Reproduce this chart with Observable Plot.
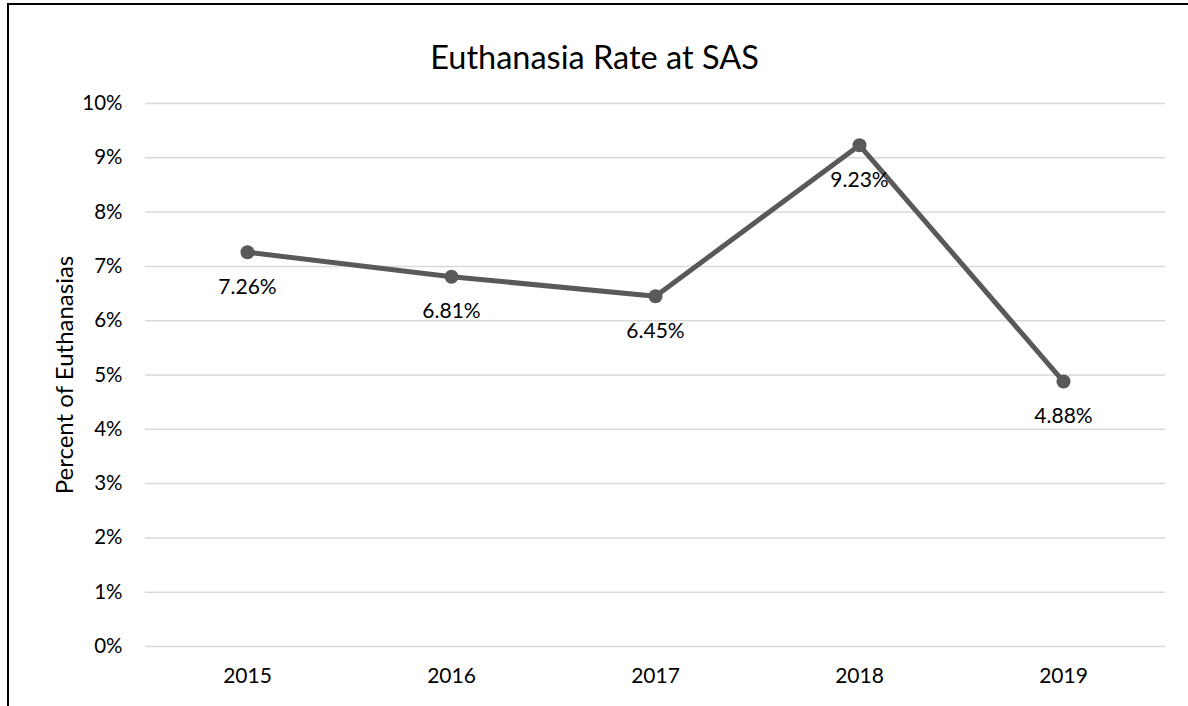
<!DOCTYPE html>
<html>
<head>
<meta charset="utf-8">
<script src="https://cdn.jsdelivr.net/npm/d3@7"></script>
<script src="https://cdn.jsdelivr.net/npm/@observablehq/plot@0.6"></script>
<style>
  html, body { margin: 0; padding: 0; background: #fff; }
  #wrap { position: relative; width: 1188px; height: 706px; overflow: hidden; }
  #border { position: absolute; left: 7px; top: 3px; width: 1190px; height: 720px; border-left: 2px solid #000; border-top: 2px solid #000; box-sizing: border-box; pointer-events: none; }
</style>
</head>
<body>
<div id="wrap"><div id="border"></div></div>
<script>
const years = ["2015", "2016", "2017", "2018", "2019"];
const rates = [0.0726, 0.0681, 0.0645, 0.0923, 0.0488];
const labels = ["7.26%", "6.81%", "6.45%", "9.23%", "4.88%"];
const yTicks = [0, 0.01, 0.02, 0.03, 0.04, 0.05, 0.06, 0.07, 0.08, 0.09, 0.10];
const title = "Euthanasia Rate at SAS";
const yLabel = "Percent of Euthanasias";

const data = years.map((y, i) => ({year: y, rate: rates[i], label: labels[i]}));
const font = "Lato, 'Open Sans', sans-serif";

const chart = Plot.plot({
  width: 1188,
  height: 706,
  marginLeft: 145,
  marginRight: 23,
  marginTop: 103,
  marginBottom: 60,
  style: {fontFamily: font, fontSize: "20px", color: "#000", background: "transparent"},
  x: {type: "point", domain: years, padding: 0.5, label: null},
  y: {domain: [0, 0.10], label: null},
  marks: [
    Plot.gridY(yTicks, {stroke: "#d9d9d9", strokeOpacity: 1, strokeWidth: 1.5}),
    Plot.axisY(yTicks, {tickSize: 0, tickPadding: 23, tickFormat: d => Math.round(d * 100) + "%", fontSize: 20.5}),
    Plot.axisX(years, {tickSize: 0, tickPadding: 22, fontSize: 21}),
    Plot.line(data, {x: "year", y: "rate", stroke: "#595959", strokeWidth: 5, strokeLinejoin: "round"}),
    Plot.dot(data, {x: "year", y: "rate", r: 7, fill: "#595959", stroke: "none"}),
    Plot.text(data, {x: "year", y: "rate", text: "label", dy: 35, fontSize: 21, fill: "#000"}),
    Plot.text([title], {frameAnchor: "top", dx: -61, dy: -58, fontSize: 32.5, fill: "#000"}),
    Plot.text([yLabel], {frameAnchor: "left", textAnchor: "middle", dx: -80, rotate: -90, fontSize: 24, fill: "#000"})
  ]
});
document.getElementById("wrap").prepend(chart);
</script>
</body>
</html>
